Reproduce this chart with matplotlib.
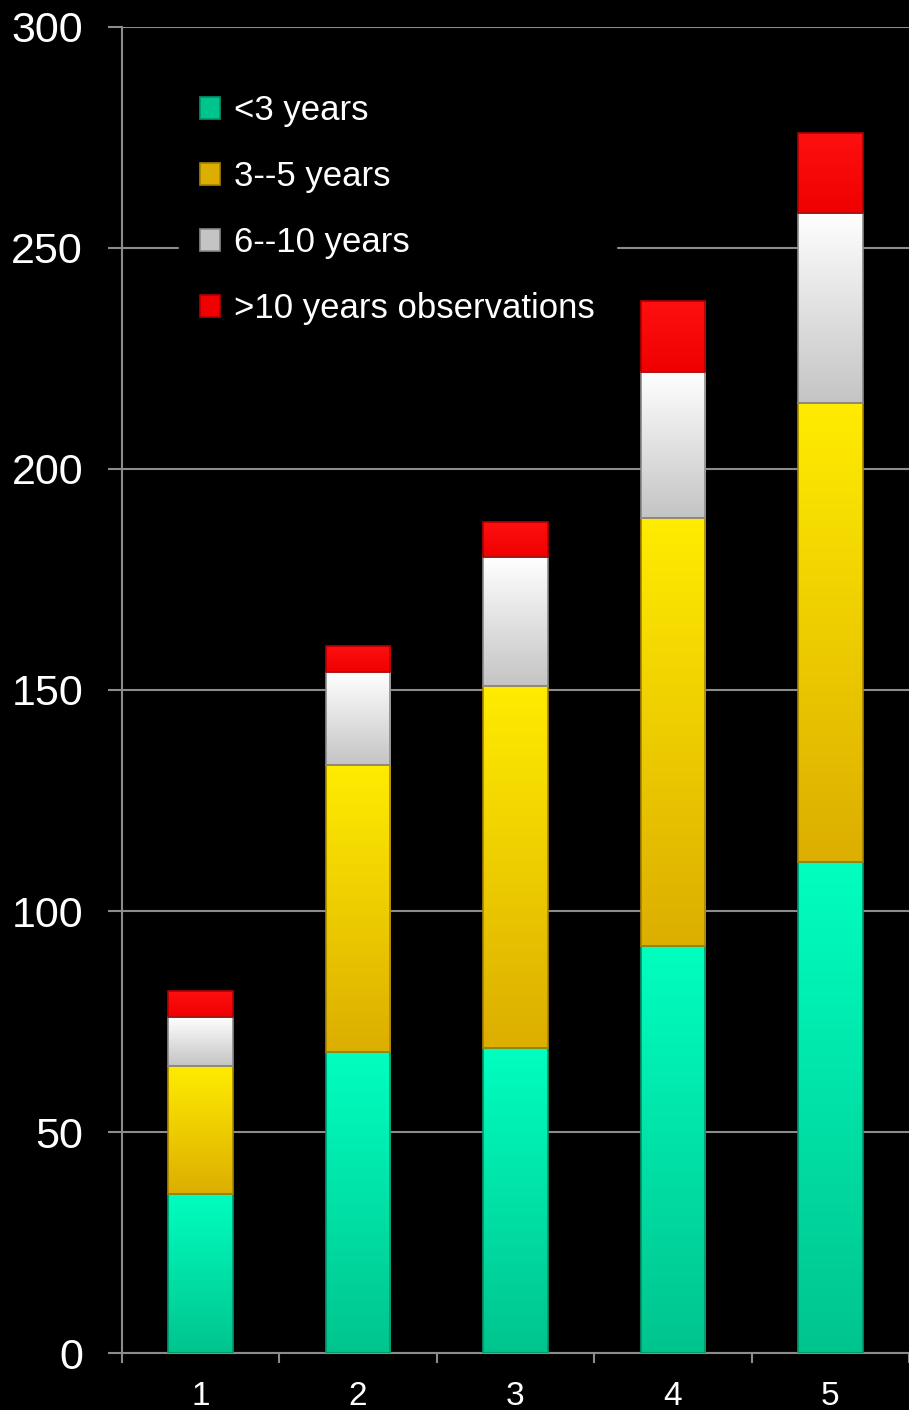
import matplotlib
matplotlib.use('Agg')
import matplotlib.pyplot as plt
import numpy as np
from matplotlib.colors import LinearSegmentedColormap

# 数据
groups = [1, 2, 3, 4, 5]
lt3 = [36, 68, 69, 92, 111]
y3_5 = [29, 65, 82, 97, 104]
y6_10 = [11, 21, 29, 33, 43]
gt10 = [6, 6, 8, 16, 18]
labels = ['<3 years', '3--5 years', '6--10 years', '>10 years observations']

series = [lt3, y3_5, y6_10, gt10]
# 每层的渐变色(上, 下)和边框色
grads = [('#00ffc0', '#00c48e'), ('#ffec00', '#dcae00'),
         ('#ffffff', '#c4c4c4'), ('#ff1010', '#f00000')]
edges = ['#00966c', '#a88400', '#8a8a8a', '#b00000']

plt.rcParams['font.family'] = ['Liberation Sans', 'DejaVu Sans']
fig = plt.figure(figsize=(9.09, 14.1), dpi=100, facecolor='black')
ax = fig.add_axes([0.1342, 0.0404, 0.8658, 0.9405], facecolor='black')

x = np.array(groups)
bottom = np.zeros(len(groups))
handles = []
for vals, (top_c, bot_c), ec, lab in zip(series, grads, edges, labels):
    bars = ax.bar(x, vals, width=0.41, bottom=bottom, facecolor=bot_c,
                  edgecolor=ec, linewidth=1.2, label=lab, zorder=3)
    cmap = LinearSegmentedColormap.from_list('g', [bot_c, top_c])
    grad = np.linspace(0, 1, 256).reshape(-1, 1)
    for p in bars:
        x0, y0 = p.get_x(), p.get_y()
        im = ax.imshow(grad, cmap=cmap, origin='lower', aspect='auto',
                       extent=[x0, x0 + p.get_width(), y0, y0 + p.get_height()],
                       zorder=3.5)
        im.set_clip_path(p)
        p.set_zorder(4)
        p.set_facecolor('none')
    handles.append(bars)
    bottom += np.array(vals)

ax.set_xlim(0.5, 5.5)
ax.set_ylim(0, 300)
ax.set_yticks(range(0, 301, 50))
ax.set_xticks(groups)
ax.set_xticklabels([str(g) for g in groups])
ax.set_xticks(np.arange(0.5, 5.6, 1), minor=True)

ax.grid(axis='y', color='#8c8c8c', linewidth=1.5, zorder=0)
for s in ['top', 'right']:
    ax.spines[s].set_visible(False)
for s in ['left', 'bottom']:
    ax.spines[s].set_color('#8c8c8c')
    ax.spines[s].set_linewidth(1.5)

ax.tick_params(axis='y', colors='#8c8c8c', labelcolor='white', labelsize=31,
               length=10, width=1.5, pad=18)
ax.tick_params(axis='x', which='major', length=0, labelcolor='white',
               labelsize=24, pad=20)
ax.tick_params(axis='x', which='minor', length=7, width=1.5, color='#8c8c8c')

leg = ax.legend(handles=[h.patches[0] for h in handles], labels=labels,
                loc='upper left', bbox_to_anchor=(0.05, 0.978),
                frameon=True, facecolor='black', edgecolor='black',
                framealpha=1, fontsize=25, labelcolor='white',
                handlelength=0.6, handleheight=0.6, handletextpad=0.4,
                labelspacing=0.95, borderpad=0.6)
for lh, (top_c, bot_c), ec in zip(leg.legend_handles, grads, edges):
    lh.set_facecolor(bot_c)
    lh.set_edgecolor(ec)
leg.set_zorder(5)

plt.savefig('out.png', dpi=100, facecolor='black')
plt.close()
